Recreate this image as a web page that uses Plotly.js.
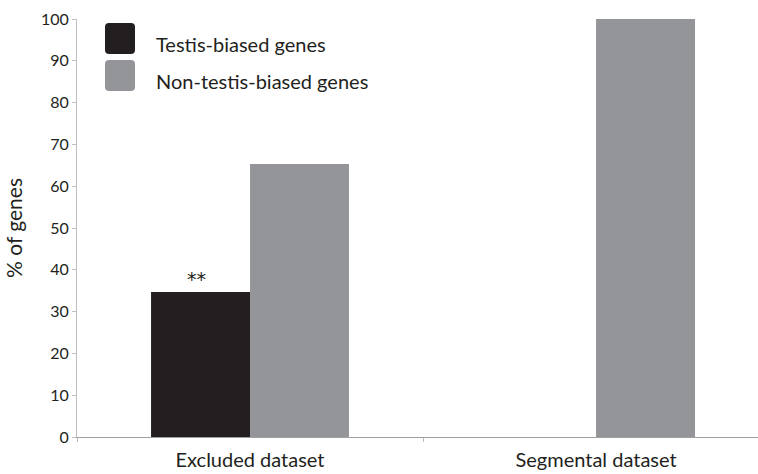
<!DOCTYPE html>
<html>
<head>
<meta charset="utf-8">
<script src="https://cdn.plot.ly/plotly-3.0.1.min.js"></script>
<style>html,body{margin:0;padding:0;background:#fff;}#chart{width:758px;height:474px;}</style>
</head>
<body>
<div id="chart"></div>
<script>
const categories = ["Excluded dataset", "Segmental dataset"];
const seriesNames = ["Testis-biased genes", "Non-testis-biased genes"];
const testisBiased = [34.7, 0];
const nonTestisBiased = [65.3, 100];
const seriesColors = ["#231f20", "#939598"];
const yTicks = [0, 10, 20, 30, 40, 50, 60, 70, 80, 90, 100];
const significance = ["**", ""];

const FONT = "Lato, 'Open Sans', sans-serif";

const traces = [
  {type: "bar", name: seriesNames[0], x: categories, y: testisBiased,
   marker: {color: seriesColors[0], line: {width: 0}}, hoverinfo: "skip"},
  {type: "bar", name: seriesNames[1], x: categories, y: nonTestisBiased,
   marker: {color: seriesColors[1], line: {width: 0}}, hoverinfo: "skip"}
];

const annotations = [];
significance.forEach((s, i) => {
  if (s) annotations.push({
    x: categories[i], y: testisBiased[i], xref: "x", yref: "y",
    text: s, showarrow: false, xanchor: "center", yanchor: "bottom",
    xshift: -54, yshift: 0, font: {family: "'DejaVu Sans', sans-serif", size: 19, color: "#231f20"}
  });
});
// legend (custom, large rounded swatches)
seriesNames.forEach((n, i) => {
  annotations.push({
    x: 154, y: 44 + i * 37, xref: "paper", yref: "paper", text: n, showarrow: false,
    xanchor: "left", yanchor: "middle", font: {family: FONT, size: 20, color: "#231f20"}
  });
});

function rr(x0, y0, x1, y1, r) {
  return `M${x0+r},${y0} L${x1-r},${y0} Q${x1},${y0} ${x1},${y0+r} L${x1},${y1-r} Q${x1},${y1} ${x1-r},${y1} L${x0+r},${y1} Q${x0},${y1} ${x0},${y1-r} L${x0},${y0+r} Q${x0},${y0} ${x0+r},${y0} Z`;
}

const W = 758, H = 474, ml = 77, mr = 0, mt = 19, mb = 37;
const pw = W - ml - mr, ph = H - mt - mb;
function px(x) { return (x - ml) / pw; }
function py(y) { return 1 - (y - mt) / ph; }
annotations.slice(-2).forEach(a => { a.x = px(a.x); a.y = py(a.y); });

const shapes = seriesColors.map((c, i) => {
  const y0 = 23 + i * 37, y1 = y0 + 31, x0 = 105, x1 = 135, r = 4;
  const pts = rr(x0, y0, x1, y1, r).replace(/(-?[\d.]+),(-?[\d.]+)/g, (m, a, b) => `${px(+a).toFixed(5)},${py(+b).toFixed(5)}`);
  return {type: "path", xref: "paper", yref: "paper", path: pts, fillcolor: c, line: {width: 0}};
});

const layout = {
  width: W, height: H,
  margin: {l: ml, r: mr, t: mt, b: mb},
  paper_bgcolor: "#ffffff", plot_bgcolor: "#ffffff",
  showlegend: false,
  barmode: "group", bargap: 0.428, bargroupgap: 0,
  font: {family: FONT, color: "#231f20"},
  xaxis: {
    type: "category", range: [-0.5, 1.468],
    showline: true, linecolor: "#a0a0a0", linewidth: 1,
    ticks: "outside", tickson: "boundaries", ticklen: 4, tickcolor: "#bbbbbb",
    ticklabelstandoff: 5,
    showgrid: false, zeroline: false,
    tickfont: {family: FONT, size: 20, color: "#231f20"}
  },
  yaxis: {
    range: [0, 100], tickvals: yTicks, ticktext: yTicks.map(String),
    showline: true, linecolor: "#c0c0c0", linewidth: 1,
    ticks: "outside", ticklen: 4, tickcolor: "#c0c0c0",
    showgrid: false, zeroline: false,
    tickfont: {family: FONT, size: 16, color: "#231f20"},
    title: {text: "% of genes", font: {family: FONT, size: 21, color: "#231f20"}, standoff: 12}
  },
  annotations: annotations,
  shapes: shapes
};

Plotly.newPlot("chart", traces, layout, {staticPlot: true, displayModeBar: false});
</script>
</body>
</html>
